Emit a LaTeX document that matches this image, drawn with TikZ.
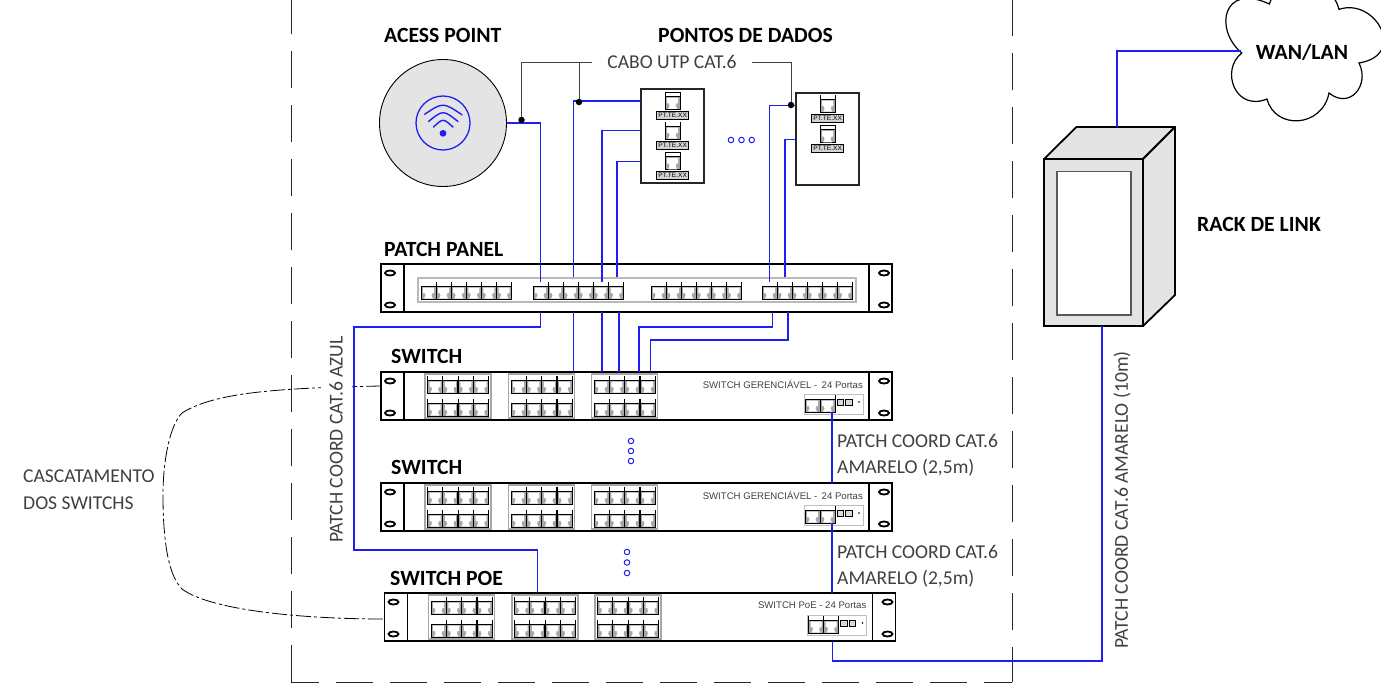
\documentclass[tikz,border=0pt]{standalone}
\usepackage{fontspec}
\setmainfont{Carlito}
\newfontfamily\armfont{Liberation Sans}
\usepackage{xcolor}
\usepackage{tikz}
\usetikzlibrary{shapes.geometric,positioning,calc}
\definecolor{panelgray}{RGB}{228, 228, 228}
\definecolor{cablecolor}{RGB}{30, 30, 245}
\definecolor{notecolor}{RGB}{64, 64, 64}
\tikzset{
    rackunit/.style={rectangle, draw, line width=1.8pt, fill=white, minimum width=511pt,
                  minimum height=48pt, inner sep=0pt, outer sep=0pt},
    earslot/.style={ellipse, draw, line width=1.8pt, fill=white, minimum width=10pt,
                  minimum height=5pt, inner sep=0pt},
    jackcell/.style={rectangle, draw, line width=.9pt, fill=gray!70, minimum width=15pt,
                  minimum height=17pt, inner sep=0pt, outer sep=0pt},
    portgroup/.style={draw=gray!70, line width=1.2pt, fill=white},
    wallbox/.style={rectangle, draw=gray!30!black, line width=1.8pt, fill=white, inner sep=0pt, outer sep=0pt},
    ptlabel/.style={rectangle, draw, line width=.6pt, fill=gray!35, minimum width=32pt, minimum height=8pt,
                  inner sep=0pt, font=\armfont\fontsize{6.6}{7}\selectfont},
    title/.style={font=\bfseries\fontsize{21.7}{26}\selectfont, inner sep=0pt},
    note/.style={text=notecolor, font=\fontsize{19.6}{24}\selectfont, inner sep=0pt},
    sidenote/.style={note, rotate=90, fill=white, minimum height=31pt, inner xsep=2pt},
    armlabel/.style={text=notecolor, font=\armfont\fontsize{9.6}{11}\selectfont, inner sep=0pt},
    cable/.style={draw=cablecolor, line width=1.4pt},
    leader/.style={draw=black!75, line width=1pt},
    junction/.style={circle, fill=black, minimum size=6.5pt, inner sep=0pt},
    morering/.style={circle, draw=cablecolor, line width=1pt, minimum size=5.5pt, inner sep=0pt},
    limitline/.style={draw=black!85, line width=1pt, dash pattern=on 37pt off 17pt},
    cascade/.style={draw=black, line width=.8pt, dash pattern=on 15pt off 3pt on 3pt off 3pt},
    jack/.pic={
        \node[jackcell] (-box) at (7.5,8.5) {};
        \fill[white] (.4,.4) rectangle (14.6,3.6);
        \draw[line width=.8pt] (0,4) -- (15,4);
        \fill[white] (2,5.5) -- (13,5.5) -- (13,11) -- (11,11) -- (11,13) -- (4,13) -- (4,11) -- (2,11) -- cycle;
        \fill[white] (3,16.6) -- (5,12.5) -- (10,12.5) -- (12,16.6) -- cycle;
    },
}
% ears of one rack unit
\newcommand{\rackears}[1]{
    \draw[line width=1.6pt] ([xshift=23pt]#1.north west) -- ([xshift=23pt]#1.south west);
    \draw[line width=1.6pt] ([xshift=-23pt]#1.north east) -- ([xshift=-23pt]#1.south east);
    \node[earslot] at ([xshift=9pt,yshift=-9pt]#1.north west) {};
    \node[earslot] at ([xshift=9pt,yshift=7pt]#1.south west) {};
    \node[earslot] at ([xshift=-8pt,yshift=-9pt]#1.north east) {};
    \node[earslot] at ([xshift=-8pt,yshift=7pt]#1.south east) {};
}
% 24 ports and uplink of one switch
\newcommand{\switchports}[2]{
    \begin{scope}[shift={(#1.north west)}]
        \foreach \gx [count=\g from 0] in {46.5,130,213} {
            \draw[portgroup] (\gx-2.5,2) rectangle (\gx+63.5,46);
            \foreach \k in {0,...,3} {
                \pgfmathtruncatemacro{\n}{\g*4+\k+1}
                \pic (#1p\n) at (\gx+\k*15.4,4) {jack};
                \pic (#1q\n) at (\gx+\k*15.4,27) {jack};
            }
        }
        \draw[portgroup, draw=gray!50, line width=.8pt] (423,22) rectangle (482,42);
        \pic (#1up1) at (424,23) {jack};
        \pic (#1up2) at (439,23) {jack};
        \draw[line width=.8pt, fill=gray!30] (456,27) rectangle (462.5,33);
        \draw[line width=.8pt, fill=gray!30] (464.5,27) rectangle (471,33);
        \fill (478,30) circle (.9pt);
        \node[armlabel, anchor=east] (#1text) at (482,12.5) {#2};
    \end{scope}
}

\begin{document}
\begin{tikzpicture}[x=1pt, y=-1pt]
    \useasboundingbox (0,0) rectangle (1381,694);
    \begin{scope}
    \clip (0,0) rectangle (1381,694);

    % Limit of the room
    \draw[limitline] (291,682) -- (291,0);
    \draw[limitline, dash phase=9pt] (291,682) -- (1012,682);
    \draw[limitline, dash phase=2pt] (1012,682) -- (1012,0);

    % Racks
    \node[rackunit] (panel) at (636.5,288) {};
    \node[rackunit, below=60pt of panel] (sw1) {};
    \node[rackunit, below=63pt of sw1] (sw2) {};
    \node[rackunit, below=62pt of sw2, xshift=3.5pt] (poe) {};
    \foreach \unit in {panel,sw1,sw2,poe} {\rackears{\unit}}

    % Patch panel ports
    \node[rectangle, draw=gray!55, line width=1.2pt, minimum width=438pt, minimum height=24pt, inner sep=0pt] (plate) at (637,290) {};
    \foreach \gx [count=\g from 0] in {421,533,651,762} {
        \foreach \k in {0,...,5} {
            \pgfmathtruncatemacro{\n}{\g*6+\k+1}
            \pic (pp\n) at (\gx+\k*15.1,282) {jack};
        }
    }

    % Switch ports
    \switchports{sw1}{SWITCH GERENCIÁVEL - \,24 Portas}
    \switchports{sw2}{SWITCH GERENCIÁVEL - \,24 Portas}
    \switchports{poe}{SWITCH PoE - 24 Portas}

    % Access point
    \node[circle, draw, line width=.9pt, fill=panelgray, minimum size=127pt, inner sep=0pt, outer sep=0pt] (ap) at (443,123) {};
    \node[circle, draw=cablecolor, line width=1.3pt, minimum size=54pt, inner sep=0pt] (apicon) at (443,123) {};
    \draw[cable] (424.3,114.5) .. controls (443,102) .. (462.3,115);
    \draw[cable] (428.3,121.7) .. controls (443,109.7) .. (458.3,121.7);
    \draw[cable] (433.3,127.3) .. controls (443,118) .. (453.3,127.3);
    \fill[cablecolor] (443,133.3) circle (3.4pt);

    % Data outlets
    \node[wallbox, minimum width=63pt, minimum height=94pt] (box1) at (672.5,136) {};
    \node[wallbox, minimum width=63pt, minimum height=92pt] (box2) at (827.5,139) {};
    \foreach \jy/\ly [count=\i] in {92.3/115,122/145,152.7/175} {
        \pic (pta\i) at (665.2,\jy) {jack};
        \node[ptlabel] (lba\i) at (672.7,\ly) {PT.TE.XX};
    }
    \foreach \jy/\ly [count=\i] in {95/118,125.7/148} {
        \pic (ptb\i) at (820.2,\jy) {jack};
        \node[ptlabel] (lbb\i) at (827.7,\ly) {PT.TE.XX};
    }
    \foreach \rx [count=\i] in {731,741.5,751.7} {\node[morering] (mh\i) at (\rx,140) {};}
    \foreach \ry [count=\i] in {441,451,461} {\node[morering] (mv\i) at (631,\ry) {};}
    \foreach \ry [count=\i] in {552,562.5,573} {\node[morering] (mw\i) at (627,\ry) {};}

    % Rack de link
    \node[rectangle, draw, line width=1.8pt, fill=panelgray, minimum width=99pt, minimum height=167pt, inner sep=0pt, outer sep=0pt] (rackfront) at (1093.5,242.5) {};
    \node[rectangle, draw=gray!70!black, line width=1.2pt, fill=white, minimum width=74pt, minimum height=143.5pt, inner sep=0pt] (rackdoor) at (1094,243.3) {};
    \draw[line width=1.8pt, fill=panelgray, line join=round] (rackfront.north west) -- (1076.4,127) -- (1175,127) -- (rackfront.north east) -- cycle;
    \draw[line width=1.8pt, fill=panelgray, line join=round] (rackfront.north east) -- (1175,127) -- (1175,295) -- (rackfront.south east) -- cycle;
    \coordinate (racktop) at (1117,127);

    % Cloud
    \draw[line width=1.2pt, fill=white] (1241.8,53) .. controls (1214,30) and (1222,-18) .. (1269.4,4)
        .. controls (1280,-30) and (1330,-25) .. (1339,9.4)
        .. controls (1375,-3) and (1408,55) .. (1359,63)
        .. controls (1370,85) and (1350,110) .. (1329,93)
        .. controls (1322,128) and (1275,130) .. (1267,99)
        .. controls (1235,112) and (1220,70) .. cycle;
    \coordinate (cloudin) at (1241,51);
    \node[title] (wan) at (1302,52) {WAN/LAN};

    % Cascade between switches
    \draw[cascade] (sw1.west |- 0,386) .. controls (280,388) and (215,392) .. (182,413)
        .. controls (170,425) and (163,460) .. (163,495)
        .. controls (163,540) and (168,575) .. (182,589)
        .. controls (210,610) and (300,619) .. (poe.west |- 0,619);

    % Titles
    \node[title, anchor=west] (aptitle) at (384,35) {ACESS POINT};
    \node[title, anchor=west] (datatitle) at (658,35) {PONTOS DE DADOS};
    \node[title, anchor=west] (paneltitle) at (384,249) {PATCH PANEL};
    \node[title, anchor=west] (sw1title) at (391,356) {SWITCH};
    \node[title, anchor=west] (sw2title) at (391,467) {SWITCH};
    \node[title, anchor=west] (poetitle) at (390,578) {SWITCH POE};
    \node[title, anchor=west] (racktitle) at (1197,224) {RACK DE LINK};

    % Notes
    \node[note, inner xsep=15pt] (cabo) at (672,62) {CABO UTP CAT.6};
    \node[note, anchor=west] (amarelo1) at (837,441) {PATCH COORD CAT.6};
    \node[note, anchor=west] (amarelo2) at (837,468) {AMARELO (2,5m)};
    \node[note, anchor=west] (amarelo3) at (837,552) {PATCH COORD CAT.6};
    \node[note, anchor=west] (amarelo4) at (837,579) {AMARELO (2,5m)};
    \node[sidenote] (azul) at (336,439.5) {PATCH COORD CAT.6 AZUL};
    \node[sidenote] (amarelo5) at (1122,500) {PATCH COORD CAT.6 AMARELO (10m)};
    \node[note, anchor=west] (casc1) at (23,476) {CASCATAMENTO};
    \node[note, anchor=west] (casc2) at (23,503) {DOS SWITCHS};

    % Cables from the outlets to the patch panel
    \draw[cable] (ap.east) -| (pp7-box.north);
    \draw[cable] (box1.west |- pta1-box) -| ([xshift=3pt]pp9-box.north |- plate.north);
    \draw[cable] (box1.west |- pta2-box) -| ([xshift=1pt]pp11-box.north);
    \draw[cable] (box1.west |- pta3-box) -| ([xshift=1pt]pp12-box.north |- plate.north);
    \draw[cable] ([yshift=-2pt]box2.west |- ptb1-box) -| (pp19-box.north);
    \draw[cable] ([yshift=-5pt]box2.west |- ptb2-box) -| ([xshift=.4pt]pp20-box.north |- plate.north);

    % Cables from the patch panel to the switches
    \draw[cable] (pp7-box.south |- panel.south) -- ++(0,15) -- ++(-186.5,0) |- ++(0,223) -| (poe.north -| poep6-box);
    \draw[cable] ([xshift=3pt]pp9-box.south |- panel.south) -- ([xshift=3pt]pp9-box.south |- sw1.north);
    \draw[cable] ([xshift=1pt]pp11-box.south |- panel.south) -- ([xshift=1pt]pp11-box.south |- sw1.north);
    \draw[cable] ([xshift=3pt]pp12-box.south |- panel.south) -- ([xshift=3pt]pp12-box.south |- sw1.north);
    \draw[cable] ([xshift=3pt]pp19-box.south |- panel.south) -- ++(0,15) -| ([xshift=6.5pt]sw1p11-box.north |- sw1.north);
    \draw[cable] ([xshift=3.4pt]pp20-box.south |- panel.south) -- ++(0,28) -| ([xshift=3pt]sw1p12-box.north |- sw1.north);

    % Cables between the switches and to the rack
    \draw[cable] ([xshift=4.5pt]sw1up2-box.south) -- ([xshift=4.5pt]sw1up2-box.south |- sw2.north);
    \draw[cable] ([xshift=4.5pt]sw2up2-box.south) -- ([xshift=4.5pt]sw2up2-box.south |- poe.north);
    \draw[cable] ([xshift=8.5pt]rackfront.south) -- ++(0,335) -| ([xshift=1.5pt]poeup2-box.south |- poe.south);
    \draw[cable] (racktop) |- (cloudin);

    % Leaders of the cable note
    \node[junction] (ja) at (521.5,120) {};
    \node[junction] (jb) at (579,102) {};
    \node[junction] (jc) at (791,105) {};
    \draw[leader] (ja) |- (cabo.west);
    \draw[leader] (jb) |- (cabo.west);
    \draw[leader] (jc) |- (cabo.east);
    \end{scope}
\end{tikzpicture}
\end{document}
